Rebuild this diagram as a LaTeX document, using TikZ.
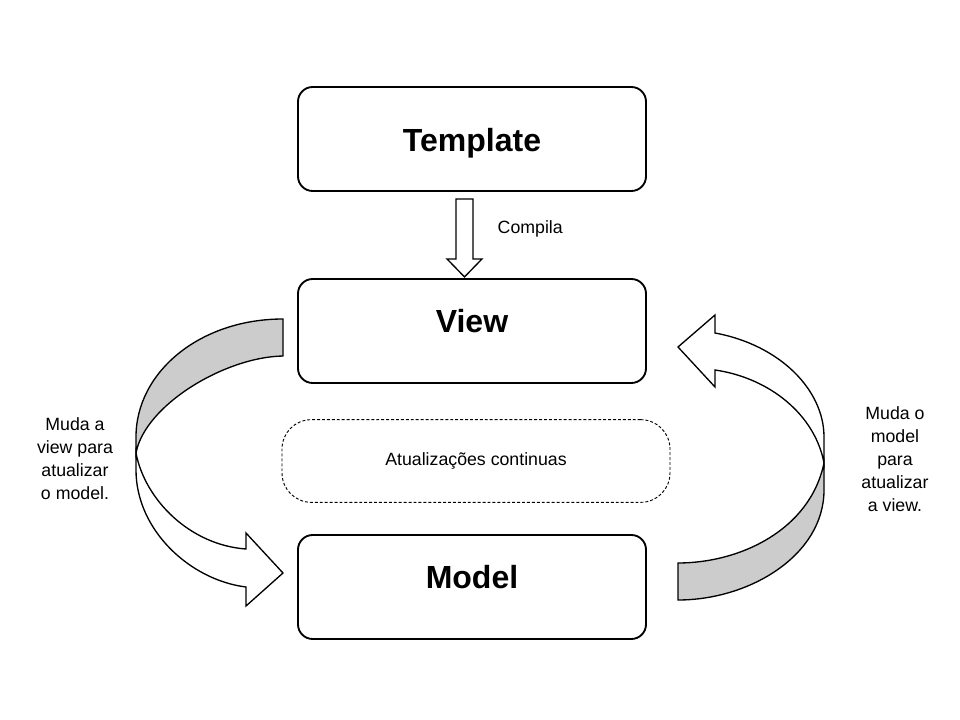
\documentclass[tikz,border=0pt]{standalone}
\usepackage{fontspec}
\setmainfont{Liberation Sans}
\usepackage{tikz}
\usetikzlibrary{positioning}
\usetikzlibrary{calc}
\usepackage{xcolor}
\definecolor{ribbongray}{HTML}{CCCCCC}

\begin{document}
\begin{tikzpicture}[x=0.75pt, y=-0.75pt,
		roundedbox/.style={rectangle, draw=black, fill=white, line width=1.4pt, rounded corners=11pt, minimum width=261pt, minimum height=78pt},
		dashednode/.style={rectangle, draw=black, dash pattern=on 2.2pt off 1.5pt, line width=0.7pt, rounded corners=22pt, minimum width=291pt, minimum height=62pt, font=\fontsize{13.3}{15}\selectfont},
		titlenode/.style={draw=none, fill=none, inner sep=0pt, anchor=base, font=\fontsize{24}{28}\selectfont\bfseries},
		sidenode/.style={draw=none, fill=none, align=center, font=\fontsize{13.3}{17.25}\selectfont},
		blockarrow/.style={draw=black, line width=1pt, fill=white, line join=miter},
		]
		\useasboundingbox (0,0) rectangle (960,720);
		
		%Nodes
		\node[roundedbox]   (template)       at (472,139)   {};
		\node[roundedbox]   (view)           at (472,331)   {};
		\node[roundedbox]   (model)          at (472,587)   {};
		\node[titlenode]    (template-text)  at (472,152)   {Template};
		\node[titlenode]    (view-text)      at (472,332)   {View};
		\node[titlenode]    (model-text)     at (472,588)   {Model};
		\node[dashednode]   (updates)        at (476,461)   {Atualizações continuas};
		\node[sidenode, anchor=west] (compila) at (493,229) {Compila};
		\node[sidenode]     (view-to-model)  at (75,459)    {Muda a\\view para\\atualizar\\o model.};
		\node[sidenode]     (model-to-view)  at (895,459)   {Muda o\\model\\para\\atualizar\\a view.};
		
		%Block arrow
		\draw[blockarrow] ($(template.south)+(-16,7)$) -- ++(17,0) -- ++(0,60) -- ++(9,0) -- ++(-17.5,18) -- ++(-17.5,-18) -- ++(9,0) -- cycle;
		
		%Left curved arrow
		\draw[blockarrow, fill=ribbongray] (283,319) .. controls (200,319) and (136,372) .. (136,437) -- (136,453)
			.. controls (145,405) and (225,357) .. (283,356) -- cycle;
		\draw[blockarrow] (136,453) -- (136,470) .. controls (136,530) and (190,580) .. (246,587)
			-- (246,606) -- (283,573) -- (246,533) -- (246,549)
			.. controls (190,545) and (145,500) .. (136,453) -- cycle;
		
		%Right curved arrow
		\draw[blockarrow, fill=ribbongray] (824,463) -- (824,490) .. controls (824,555) and (750,600) .. (678,600)
			-- (678,563) .. controls (740,563) and (810,530) .. (824,463) -- cycle;
		\draw[blockarrow] (715,333) .. controls (780,345) and (824,390) .. (824,437) -- (824,463)
			.. controls (815,415) and (770,378) .. (715,370) -- (715,387) -- (678,347) -- (715,315) -- cycle;
		
	\end{tikzpicture}
\end{document}
